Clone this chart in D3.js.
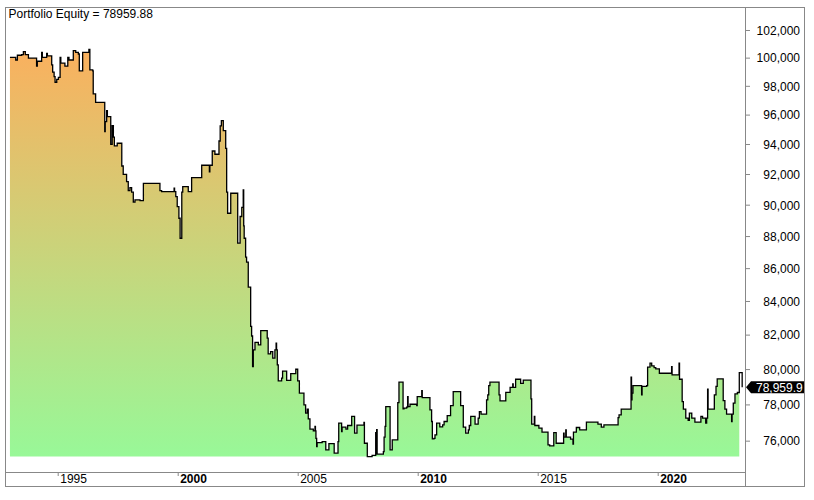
<!DOCTYPE html>
<html><head><meta charset="utf-8">
<script src="https://cdn.jsdelivr.net/npm/d3@7"></script>
<style>
body{margin:0;background:#fff}
text{font-family:Arial,"Liberation Sans",sans-serif;font-size:12px}
</style>
</head><body>
<svg id="c" width="814" height="500"></svg>
<script>
// ---- data (decimal years, portfolio equity) ----
const dates = [
1993.01,1993.25,1993.32,1993.50,1993.57,1993.65,1993.78,1994.12,1994.15,1994.33,
1994.36,1994.54,1994.57,1994.75,1994.79,1994.85,1994.89,1994.96,1995.03,1995.10,
1995.13,1995.30,1995.42,1995.47,1995.65,1995.75,1995.86,1995.90,1996.04,1996.30,
1996.34,1996.46,1996.48,1996.58,1996.96,1996.98,1997.04,1997.07,1997.21,1997.27,
1997.32,1997.36,1997.48,1997.67,1997.73,1997.87,1997.94,1998.01,1998.08,1998.15,
1998.22,1998.43,1998.57,1999.26,1999.33,1999.85,1999.87,1999.92,1999.98,2000.05,
2000.10,2000.17,2000.21,2000.44,2000.58,2001.00,2001.32,2001.34,2001.44,2001.55,
2001.72,2001.77,2001.82,2001.90,2002.00,2002.04,2002.08,2002.21,2002.50,2002.60,
2002.67,2002.73,2002.75,2002.77,2002.83,2002.87,2002.94,2003.04,2003.08,2003.12,
2003.15,2003.22,2003.36,2003.46,2003.73,2003.77,2003.87,2003.96,2004.05,2004.10,
2004.12,2004.15,2004.19,2004.33,2004.37,2004.54,2004.71,2004.92,2005.00,2005.07,
2005.26,2005.33,2005.40,2005.44,2005.51,2005.65,2005.72,2005.74,2005.76,2005.79,
2005.81,2006.02,2006.17,2006.30,2006.52,2006.68,2006.71,2006.83,2006.85,2007.01,
2007.08,2007.25,2007.37,2007.47,2007.76,2007.78,2007.90,2008.10,2008.25,2008.27,
2008.29,2008.31,2008.57,2008.60,2008.64,2008.67,2008.85,2008.94,2009.17,2009.22,
2009.39,2009.43,2009.54,2009.58,2009.60,2009.68,2009.96,2009.98,2010.17,2010.19,
2010.51,2010.58,2010.61,2010.68,2010.72,2010.79,2010.92,2011.04,2011.10,2011.23,
2011.37,2011.48,2011.79,2011.90,2012.00,2012.11,2012.15,2012.21,2012.39,2012.52,
2012.57,2012.64,2012.87,2012.92,2012.96,2013.01,2013.39,2013.43,2013.67,2013.85,
2013.96,2013.98,2014.08,2014.29,2014.40,2014.72,2014.75,2014.86,2014.88,2015.05,
2015.18,2015.43,2015.50,2015.67,2015.77,2016.08,2016.10,2016.17,2016.19,2016.37,
2016.47,2016.49,2016.61,2016.75,2017.03,2017.51,2017.65,2017.76,2018.35,2018.39,
2018.48,2018.89,2018.91,2018.93,2018.97,2019.33,2019.35,2019.54,2019.58,2019.68,
2019.75,2019.85,2019.92,2020.07,2020.58,2020.60,2020.89,2020.91,2021.02,2021.07,
2021.17,2021.27,2021.32,2021.42,2021.55,2021.80,2021.87,2022.00,2022.04,2022.08,
2022.10,2022.36,2022.43,2022.48,2022.73,2022.80,2022.87,2023.08,2023.10,2023.15,
2023.22,2023.32,2023.40,2023.52
];
const equity = [
100020,99830,100170,100210,100430,100210,99970,99400,99740,100380,
100020,100310,100120,99480,98960,98650,98250,98460,98600,100020,
99600,99400,100020,99830,100500,100380,100260,99050,100380,100600,
99120,99050,97430,96850,94840,95520,96270,95860,93980,95250,
94460,93870,94050,92530,91980,91500,90910,91110,90810,90160,
90310,90260,91390,90910,90850,91070,90850,90520,89870,89130,
87860,90810,91170,90850,91760,92580,92150,92580,93530,93310,
94200,95230,95590,94900,93710,90810,89450,90740,87550,89240,
89830,90960,88640,87860,86680,86370,84840,82480,81920,80140,
81110,81540,81400,82240,81790,80880,81010,80630,81110,81500,
81110,80240,79330,79480,79880,79360,79740,79990,79330,78630,
77970,77510,77740,77200,76630,76540,76780,76540,76130,75680,
75890,75950,75500,75840,75320,75950,76960,76500,76740,76630,
76830,77330,76410,76850,77000,75860,75140,75200,76440,75270,
76600,75270,75410,76190,76780,77880,75500,76040,78100,79250,
77750,77790,77850,78440,77880,78010,77930,78440,78780,78380,
77700,77050,76100,76130,76320,76960,76760,76870,77050,77380,
77930,78720,77930,76740,76410,76590,76830,77330,76910,77240,
77600,77460,78250,78540,79060,79250,78540,78200,78680,78960,
79160,78960,79420,79190,79370,78310,76910,77330,76830,76690,
76470,75770,75720,76440,75860,76410,76190,76590,76190,76080,
75810,76470,76720,76590,77020,76910,76740,76870,77270,77420,
77740,79540,78250,78630,79060,78540,79010,79060,80110,80340,
80180,80080,80010,79760,80140,79670,80340,79420,78160,77740,
77240,77110,77510,77240,77020,77330,77240,76960,77240,78860,
77740,78540,79010,79440,78210,77740,77460,77050,77460,78070,
78590,78670,79800,78959.88
];
const yTicks = [76000,78000,80000,82000,84000,86000,88000,90000,92000,94000,96000,98000,100000,102000];
const xTicks = [1995,2000,2005,2010,2015,2020];
const titleText = "Portfolio Equity = 78959.88";
const lastLabel = "78,959.9";

// ---- layout ----
const L = 5, R = 745, T = 7, B = 472, FR = 804, FB = 486;
const svg = d3.select("#c");

const x = d3.scaleLinear().domain([1992.804, 2023.638]).range([L, R]);
const y = d3.scaleLog().domain([74313, 103694]).range([B, T]);

const data = dates.map((t, i) => ({t, v: equity[i]}));
const vmin = d3.min(equity), vmax = d3.max(equity);

// gradient
const defs = svg.append("defs");
const grad = defs.append("linearGradient").attr("id", "g")
  .attr("gradientUnits", "userSpaceOnUse")
  .attr("x1", 0).attr("x2", 0).attr("y1", y(vmax)).attr("y2", y(vmin));
grad.append("stop").attr("offset", 0).attr("stop-color", "#FAB05E");
grad.append("stop").attr("offset", 1).attr("stop-color", "#98F898");

defs.append("clipPath").attr("id", "fr").append("rect")
  .attr("x", L).attr("y", T).attr("width", FR - L).attr("height", FB - T);

// area
const area = d3.area().curve(d3.curveStepAfter)
  .x(d => x(d.t)).y0(y(vmin)).y1(d => y(d.v));
svg.append("path").datum(data.slice(0, -1)).attr("d", area).attr("fill", "url(#g)");

// line
const line = d3.line().curve(d3.curveStepAfter).x(d => x(d.t)).y(d => y(d.v));
svg.append("path").datum(data).attr("d", line)
  .attr("fill", "none").attr("stroke", "#000").attr("stroke-width", 1.3);

// x axis
const xa = svg.append("g").attr("transform", `translate(0,${B})`)
  .call(d3.axisBottom(x).tickValues(xTicks).tickSize(4).tickFormat(d3.format("d")));
xa.select(".domain").remove();
xa.selectAll(".tick line").attr("stroke", "#888");
xa.selectAll(".tick text").attr("text-anchor", "start").attr("x", 2).attr("y", 2)
  .attr("fill", "#000").style("font-size", "12px")
  .style("font-family", "Arial, 'Liberation Sans', sans-serif")
  .style("font-weight", d => d % 10 === 0 ? "bold" : "normal");

// y axis
const ya = svg.append("g").attr("transform", `translate(${R},0)`)
  .call(d3.axisRight(y).tickValues(yTicks).tickSize(5).tickFormat(d3.format(",")));
ya.select(".domain").remove();
ya.selectAll(".tick line").attr("stroke", "#888");
ya.selectAll(".tick text").attr("text-anchor", "end").attr("x", 55).attr("dy", "0.36em")
  .attr("fill", "#000").style("font-size", "12px")
  .style("font-family", "Arial, 'Liberation Sans', sans-serif");

// frame
const fr = svg.append("g").attr("stroke", "#888").attr("fill", "none").attr("shape-rendering", "crispEdges");
fr.append("rect").attr("x", L + 0.5).attr("y", T + 0.5).attr("width", FR - L).attr("height", FB - T);
fr.append("line").attr("x1", R + 0.5).attr("x2", R + 0.5).attr("y1", T).attr("y2", FB);
fr.append("line").attr("x1", L).attr("x2", R).attr("y1", B + 0.5).attr("y2", B + 0.5);

// last value label
const yl = y(equity[equity.length - 1]);
const lab = svg.append("g").attr("clip-path", "url(#fr)");
lab.append("polygon")
  .attr("points", [[746, yl], [751, yl - 6], [810, yl - 6], [810, yl + 6], [751, yl + 6]].map(p => p.join(",")).join(" "))
  .attr("fill", "#000");
lab.append("text").attr("x", 756).attr("y", yl).attr("dy", "0.36em")
  .attr("fill", "#fff").text(lastLabel);

// title
svg.append("text").attr("x", 8.5).attr("y", 18).attr("fill", "#000").text(titleText);
</script>
</body></html>
